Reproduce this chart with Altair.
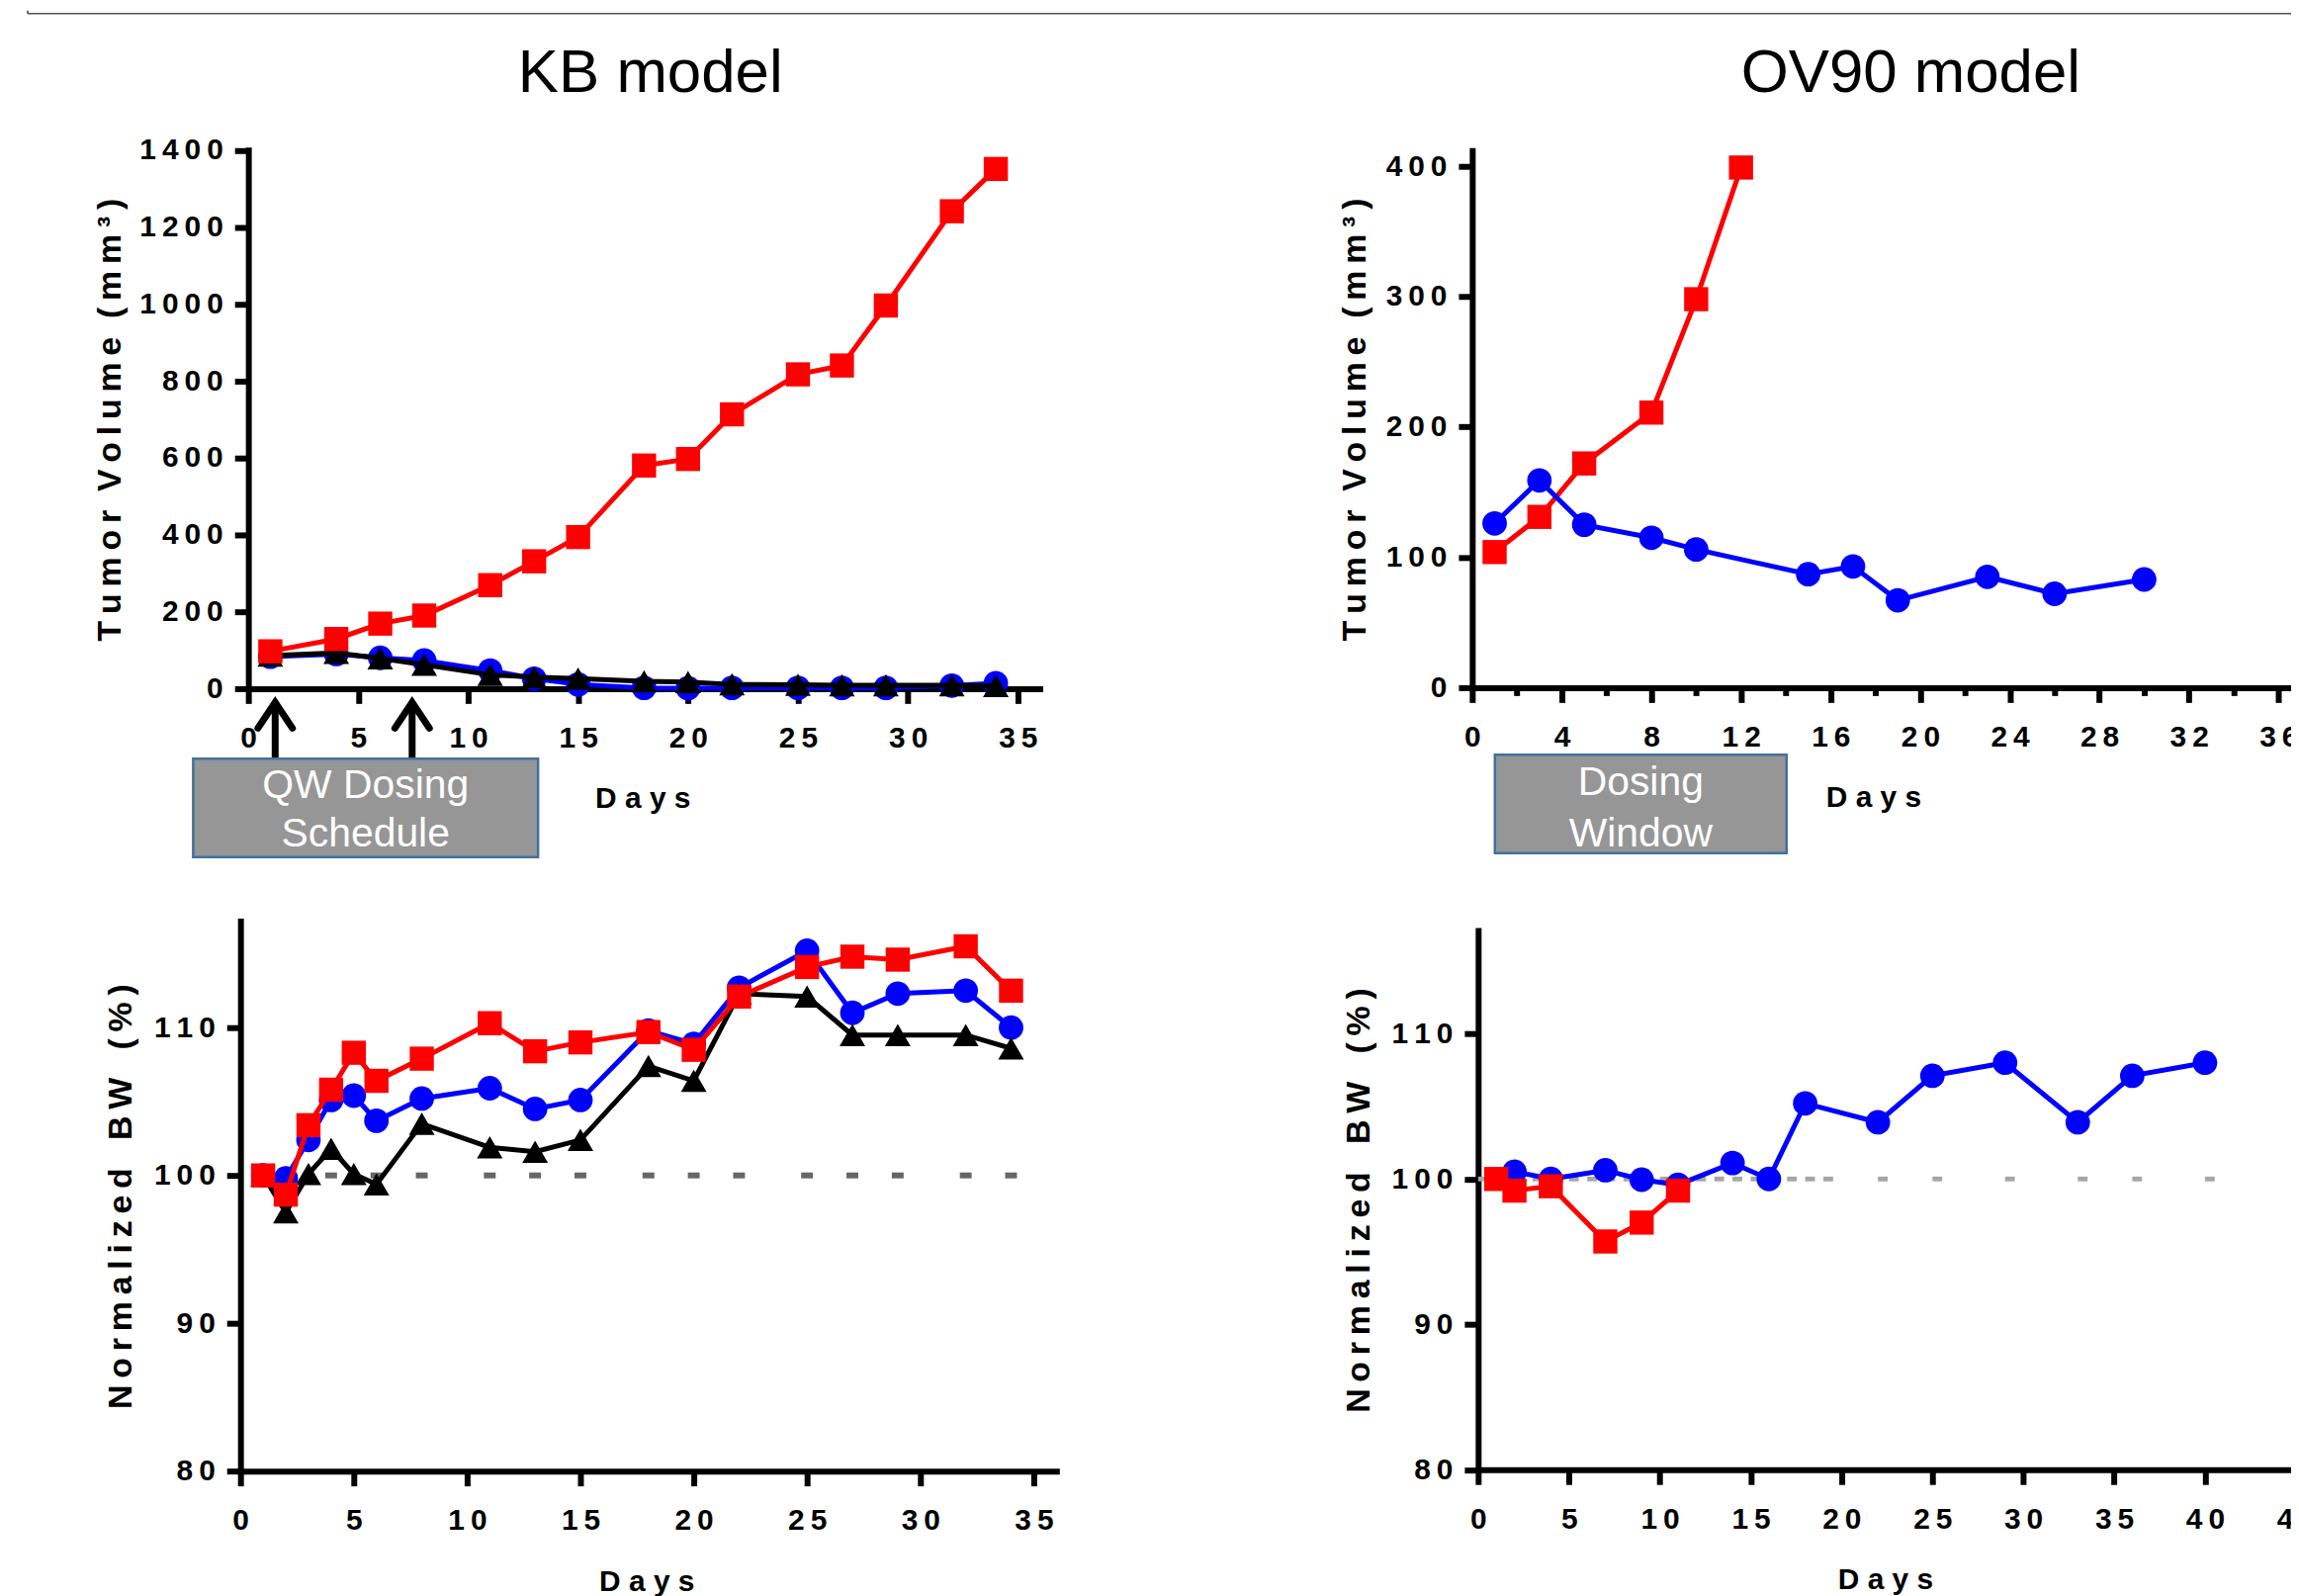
import altair as alt
import pandas as pd

# ---------------- data ----------------
kb_days = [1, 4, 6, 8, 11, 13, 15, 18, 20, 22, 25, 27, 29, 32, 34]
kb_tv_red = [97, 129, 169, 190, 269, 331, 394, 580, 597, 713, 817, 840, 996, 1241, 1351]
kb_tv_blue = [83, 90, 80, 73, 47, 26, 11, 2, 1, 2, 2, 2, 2, 8, 14]
kb_tv_black = [86, 93, 79, 62, 36, 30, 26, 19, 17, 11, 10, 9, 9, 9, 7]

ov_tv_red_days = [1, 3, 5, 8, 10, 12]
ov_tv_red = [104, 131, 172, 211, 298, 399]
ov_tv_blue_days = [1, 3, 5, 8, 10, 15, 17, 19, 23, 26, 30]
ov_tv_blue = [126, 159, 125, 115, 106, 87, 93, 67, 85, 72, 83]

kb_bw_days = [1, 2, 3, 4, 5, 6, 8, 11, 13, 15, 18, 20, 22, 25, 27, 29, 32, 34]
kb_bw_red = [100.0, 98.7, 103.4, 105.8, 108.3, 106.4, 107.9, 110.3, 108.4, 109.0,
             109.7, 108.5, 112.1, 114.1, 114.8, 114.6, 115.5, 112.5]
kb_bw_blue = [100.0, 99.8, 102.4, 105.1, 105.4, 103.7, 105.2, 105.9, 104.5, 105.1,
              109.8, 108.9, 112.7, 115.2, 111.0, 112.3, 112.5, 110.0]
kb_bw_black = [100.0, 97.5, 100.1, 101.8, 100.1, 99.4, 103.5, 101.9, 101.6, 102.4,
               107.4, 106.4, 112.3, 112.1, 109.5, 109.5, 109.5, 108.6]
kb_ref_days = kb_bw_days

ov_bw_blue_days = [2, 4, 7, 9, 11, 14, 16, 18, 22, 25, 29, 33, 36, 40]
ov_bw_blue = [100.5, 100.0, 100.6, 99.95, 99.6, 101.1, 100.0, 105.2, 103.9, 107.1,
              108.0, 103.9, 107.1, 108.0]
ov_bw_red_days = [1, 2, 4, 7, 9, 11]
ov_bw_red = [100.0, 99.2, 99.5, 95.7, 97.0, 99.2]
ov_ref_days = list(range(0, 20)) + [22, 25, 29, 33, 36, 40]

dose_days_kb = [1.22, 7.45]

kb_x_ticks = [0, 5, 10, 15, 20, 25, 30, 35]
ov_x_ticks = list(range(0, 38, 2))
ov_bw_x_ticks = [0, 5, 10, 15, 20, 25, 30, 35, 40, 45]
kb_tv_y_ticks = [0, 200, 400, 600, 800, 1000, 1200, 1400]
ov_tv_y_ticks = [0, 100, 200, 300, 400]
bw_y_ticks = [80, 90, 100, 110]

# ---------------- layout helpers ----------------
W, H = 2317, 1606
O = 8


def g(v):
    return v - O


FONT = "Liberation Sans"
SP = "\u00a0"
TH = "\u2009"
RED, BLUE, BLACK = "#FF0000", "#0000FF", "#000000"


def spaced(words, letter_gap, word_gap):
    return word_gap.join(letter_gap.join(list(w)) for w in words)


LBL = "join(split('' + datum.value, ''), '" + TH + "')"
LBL4 = "datum.value % 4 === 0 ? join(split('' + datum.value, ''), '" + TH + "') : ''"
DAYS = spaced(["Days"], SP, SP)
TV_TITLE = spaced(["Tumor", "Volume", "(mm³)"], TH, SP * 2)
BW_TITLE = spaced(["Normalized", "BW", "(%)"], TH, SP * 3)


def common():
    return dict(domainColor="black", domainWidth=6, domainCap="square",
                tickColor="black", tickWidth=6, grid=False,
                labelFont=FONT, labelFontSize=30, labelFontWeight="bold",
                labelColor="black", labelFlush=False, labelOverlap=False,
                titleFont=FONT, titleFontWeight="bold", titleColor="black")


def x_axis(values, axis_y, title_x, expr=LBL, tick_size=15):
    return alt.Axis(orient="bottom", offset=g(axis_y) - H, values=values,
                    title=DAYS, titleX=g(title_x), titleY=112, titleAngle=0,
                    titleBaseline="middle", titleAlign="center", titleFontSize=30,
                    tickSize=tick_size, labelPadding=20, labelAngle=0,
                    labelExpr=expr, **common())


def y_axis(values, axis_x, title, title_x):
    return alt.Axis(orient="left", offset=-g(axis_x), values=values,
                    title=title, titleX=title_x, titleAngle=270,
                    titleBaseline="middle", titleAlign="center", titleFontSize=34,
                    tickSize=14, labelPadding=12, labelExpr=LBL, **common())


def df(days, vals):
    return pd.DataFrame({"day": days, "v": vals})


def enc_x(xs, xax=None):
    return alt.X("day:Q", scale=xs, axis=xax) if xax is not None else alt.X("day:Q", scale=xs)


def enc_y(ys, yax=None):
    return alt.Y("v:Q", scale=ys, axis=yax) if yax is not None else alt.Y("v:Q", scale=ys)


def series(data, color, shape, size, xs, ys, xax=None, yax=None):
    ex, ey = enc_x(xs, xax), enc_y(ys, yax)
    line = alt.Chart(data).mark_line(color=color, strokeWidth=5).encode(x=ex, y=ey)
    pts = alt.Chart(data).mark_point(shape=shape, filled=True, color=color, size=size,
                                     opacity=1, strokeWidth=0).encode(x=ex, y=ey)
    return [line, pts]


SQ, CI, TR = ("square", 600), ("circle", 620), ("triangle-up", 680)

# ---------------- KB tumour volume (top left) ----------------
tl_x = alt.Scale(domain=[0, 36], range=[g(252), g(252) + 36 * 22.31], nice=False, zero=False)
tl_y = alt.Scale(domain=[0, 1400], range=[g(696), g(149.5)], nice=False, zero=False)
tl_layers = (
    series(df(kb_days, kb_tv_blue), BLUE, *CI, tl_x, tl_y,
           x_axis(kb_x_ticks, 696, 652),
           y_axis(kb_tv_y_ticks, 252, TV_TITLE, -140))
    + series(df(kb_days, kb_tv_black), BLACK, *TR, tl_x, tl_y)
    + series(df(kb_days, kb_tv_red), RED, *SQ, tl_x, tl_y)
)
arrows = pd.DataFrame({"day": dose_days_kb})
shaft = alt.Chart(arrows).mark_rule(color="black", strokeWidth=7).encode(
    x=enc_x(tl_x), y=alt.value(g(711)), y2=alt.value(g(767)))
head = alt.Chart(arrows).mark_point(
    shape="M -1 0.75 L 0 -0.75 L 1 0.75", filled=False, color="black", strokeWidth=7,
    size=1225, opacity=1, strokeCap="round", strokeJoin="miter").encode(
    x=enc_x(tl_x), y=alt.value(g(723)))
tl = alt.layer(*tl_layers, shaft, head)

# ---------------- OV90 tumour volume (top right) ----------------
tr_x = alt.Scale(domain=[0, 37], range=[g(1494), g(1494) + 37 * 22.73], nice=False, zero=False)
tr_y = alt.Scale(domain=[0, 412], range=[g(695), g(150)], nice=False, zero=False)
tr_xaxis = x_axis(ov_x_ticks, 695, 1901, expr=LBL4,
                  tick_size={"condition": {"test": "datum.value % 4 === 0", "value": 15}, "value": 8})
tr = alt.layer(
    *series(df(ov_tv_red_days, ov_tv_red), RED, *SQ, tr_x, tr_y, tr_xaxis,
            y_axis(ov_tv_y_ticks, 1494, TV_TITLE, -119)),
    *series(df(ov_tv_blue_days, ov_tv_blue), BLUE, *CI, tr_x, tr_y),
)

# ---------------- KB body weight (bottom left) ----------------
bl_x = alt.Scale(domain=[0, 36], range=[g(244), g(244) + 36 * 23.0], nice=False, zero=False)
bl_y = alt.Scale(domain=[80, 117.2], range=[g(1490), g(1490) - 37.2 * 15.0], nice=False, zero=False)
kb_ref = pd.DataFrame({"day": kb_ref_days, "v": [100] * len(kb_ref_days)})
bl_ref = alt.Chart(kb_ref).mark_point(
    shape="M -1 -0.5 L 1 -0.5 L 1 0.5 L -1 0.5 Z", filled=True, color="#666666",
    size=144, opacity=1, strokeWidth=0).encode(
    x=enc_x(bl_x, x_axis(kb_x_ticks, 1490, 656)),
    y=enc_y(bl_y, y_axis(bw_y_ticks, 244, BW_TITLE, -121)))
bl = alt.layer(
    bl_ref,
    *series(df(kb_bw_days, kb_bw_blue), BLUE, *CI, bl_x, bl_y),
    *series(df(kb_bw_days, kb_bw_black), BLACK, *TR, bl_x, bl_y),
    *series(df(kb_bw_days, kb_bw_red), RED, *SQ, bl_x, bl_y),
)

# ---------------- OV90 body weight (bottom right) ----------------
br_x = alt.Scale(domain=[0, 45.6], range=[g(1500), g(1500) + 45.6 * 18.44], nice=False, zero=False)
br_y = alt.Scale(domain=[80, 117.1], range=[g(1488.6), g(1488.6) - 37.1 * 14.75], nice=False, zero=False)
ov_ref = pd.DataFrame({"day": ov_ref_days, "v": [100] * len(ov_ref_days)})
br_ref = alt.Chart(ov_ref).mark_point(
    shape="M 0 -0.27 L 1.1 -0.27 L 1.1 0.27 L 0 0.27 Z", filled=True, color="#A6A6A6",
    size=324, opacity=1, strokeWidth=0).encode(
    x=enc_x(br_x, x_axis(ov_bw_x_ticks, 1488.6, 1913)),
    y=enc_y(br_y, y_axis(bw_y_ticks, 1500, BW_TITLE, -121)))
br = alt.layer(
    br_ref,
    *series(df(ov_bw_blue_days, ov_bw_blue), BLUE, *CI, br_x, br_y),
    *series(df(ov_bw_red_days, ov_bw_red), RED, *SQ, br_x, br_y),
)

# ---------------- annotations ----------------
one = pd.DataFrame({"a": [0]})


def text(t, x, y, size, color="black", weight="normal"):
    return alt.Chart(one).mark_text(text=t, font=FONT, fontSize=size, color=color,
                                    fontWeight=weight, align="center", baseline="middle").encode(
        x=alt.value(g(x)), y=alt.value(g(y)))


def box(x1, x2, y1, y2):
    return alt.Chart(one).mark_rect(fill="#969696", stroke="#41719C", strokeWidth=2.5).encode(
        x=alt.value(g(x1)), x2=alt.value(g(x2)), y=alt.value(g(y1)), y2=alt.value(g(y2)))


frame_h = alt.Chart(one).mark_rule(color="#505050", strokeWidth=1.7).encode(
    x=alt.value(g(28)), x2=alt.value(W), y=alt.value(g(11)))
frame_v = alt.Chart(one).mark_rule(color="#505050", strokeWidth=1.7).encode(
    x=alt.value(g(28)), y=alt.value(0), y2=alt.value(g(11)))

annots = [
    frame_h, frame_v,
    text("KB model", 660, 71.6, 62),
    text("OV90 model", 1939, 71.6, 62),
    box(196, 546, 767, 867),
    text("QW Dosing", 371, 795.4, 41, "white"),
    text("Schedule", 371, 844.4, 41, "white"),
    box(1517, 1813, 763, 863),
    text("Dosing", 1665, 792.4, 41, "white"),
    text("Window", 1665, 844.4, 41, "white"),
]

chart = (
    alt.layer(tl, tr, bl, br, *annots)
    .resolve_scale(x="independent", y="independent")
    .resolve_axis(x="independent", y="independent")
    .properties(width=W, height=H, padding=0, autosize=alt.AutoSizeParams(type="none"),
                background="white")
    .configure_view(stroke=None)
)

chart.save("out.html", embed_options={"renderer": "svg", "actions": False})
